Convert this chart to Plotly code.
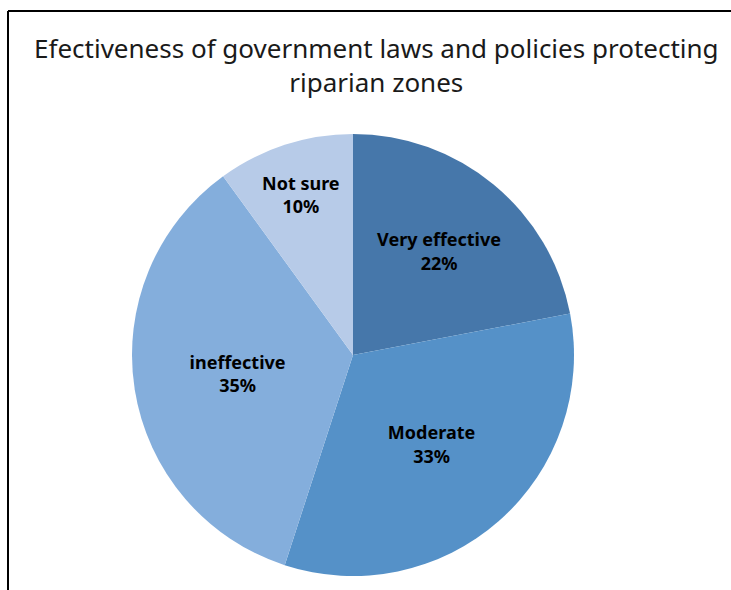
import plotly.graph_objects as go

categories = ["Very effective", "Moderate", "ineffective", "Not sure"]
percent = [22, 33, 35, 10]
colors = ["#4677AA", "#5591C8", "#84AEDC", "#B7CBE8"]
title_text = "Efectiveness of government laws and policies protecting<br>riparian zones"

W, H = 731, 590
cx, cy, r = 353, 355, 221

fig = go.Figure(go.Pie(
    labels=categories,
    values=percent,
    sort=False,
    direction="clockwise",
    rotation=0,
    marker=dict(colors=colors, line=dict(width=0)),
    texttemplate="<b>%{label}</b><br><b>%{value}%</b>",
    textposition="inside",
    insidetextorientation="horizontal",
    textfont=dict(family="Noto Sans", size=18, color="black"),
    showlegend=False,
    hoverinfo="label+percent",
    domain=dict(x=[(cx - r) / W, (cx + r) / W], y=[1 - (cy + r) / H, 1 - (cy - r) / H]),
))

fig.update_layout(
    width=W, height=H,
    margin=dict(l=0, r=0, t=0, b=0),
    paper_bgcolor="white",
    plot_bgcolor="white",
    annotations=[dict(text=title_text, xref="paper", yref="paper", x=376 / W, xanchor="center",
                      y=1 - 65 / H, yanchor="middle", showarrow=False,
                      font=dict(family="Noto Sans", size=26, color="#1a1a1a"))],
    shapes=[
        dict(type="line", xref="paper", yref="paper", x0=8 / W, x1=1, y0=1 - 11 / H, y1=1 - 11 / H,
             line=dict(color="black", width=2)),
        dict(type="line", xref="paper", yref="paper", x0=8 / W, x1=8 / W, y0=0, y1=1 - 11 / H,
             line=dict(color="black", width=2)),
    ],
)

fig.write_html("out.html", config={"displayModeBar": False},
               post_script="document.body.style.margin='0';document.body.style.overflow='hidden';")
